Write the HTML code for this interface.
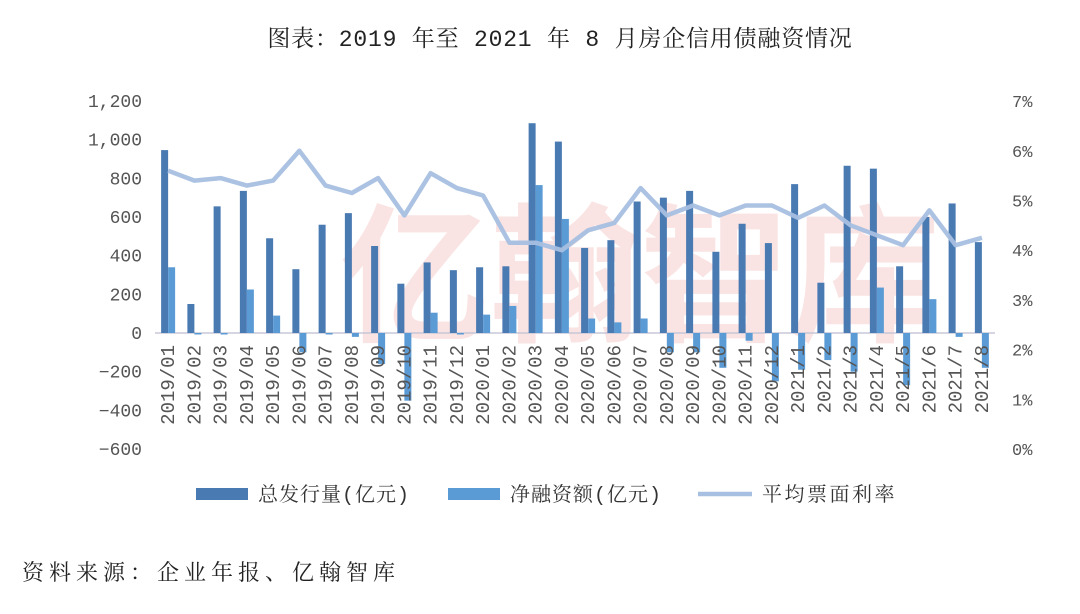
<!DOCTYPE html>
<html><head><meta charset="utf-8"><style>
html,body{margin:0;padding:0;background:#fff;width:1080px;height:614px;overflow:hidden}
text{font-family:"Liberation Mono","Noto Serif CJK SC",serif}
</style></head><body>
<svg id="s" width="1080" height="614" viewBox="0 0 1080 614" xmlns="http://www.w3.org/2000/svg">
<text x="560" y="46" text-anchor="middle" font-size="23" fill="#222" letter-spacing="0.8">图表：2019 年至 2021 年 8 月房企信用债融资情况</text>
<g opacity="0.13" fill="#e03030">
<text x="340" y="330" font-size="150" style="font-family:'Noto Sans CJK SC',sans-serif;font-weight:bold">亿翰智库</text>
</g>
<g id="yl" font-size="18" fill="#555" text-anchor="end"></g>
<g id="yr" font-size="17" fill="#555" text-anchor="start"></g>
<line x1="155" x2="995" y1="333" y2="333" stroke="#c8c8d8" stroke-width="1.5"/>
<g id="bars"></g>
<polyline id="ln" fill="none" stroke="#a7bfe0" stroke-width="4.5" stroke-linejoin="round" opacity="0.95"/>
<g id="xl" font-size="19" fill="#555"></g>
<rect x="196" y="488" width="52" height="12" fill="#4a7ab2"/>
<text x="258" y="501" font-size="20" fill="#333" letter-spacing="1">总发行量(亿元)</text>
<rect x="448" y="488" width="52" height="12" fill="#5b9bd5"/>
<text x="510" y="501" font-size="20" fill="#333" letter-spacing="1">净融资额(亿元)</text>
<line x1="698" x2="752" y1="494" y2="494" stroke="#a7bfe0" stroke-width="4.5"/>
<text x="762" y="501" font-size="20" fill="#333" letter-spacing="2.5">平均票面利率</text>
<text x="22" y="580" font-size="22" fill="#222" letter-spacing="5">资料来源：企业年报、亿翰智库</text>
</svg>
<script>
var labels=["2019/01","2019/02","2019/03","2019/04","2019/05","2019/06","2019/07","2019/08","2019/09","2019/10","2019/11","2019/12","2020/01","2020/02","2020/03","2020/04","2020/05","2020/06","2020/07","2020/08","2020/09","2020/10","2020/11","2020/12","2021/1","2021/2","2021/3","2021/4","2021/5","2021/6","2021/7","2021/8"];
var d=[946,150,655,735,490,330,560,620,450,255,365,325,340,345,1085,990,440,480,680,700,735,420,565,465,770,260,865,850,345,600,670,470];
var l=[340,-5,-5,225,90,-100,-5,-20,-160,-350,105,-5,95,140,765,590,75,55,75,-100,-100,-180,-40,-250,-190,-140,-200,235,-270,175,-20,-180];
var r=[5.6,5.4,5.45,5.3,5.4,6.0,5.3,5.15,5.45,4.7,5.55,5.25,5.1,4.15,4.15,4.0,4.4,4.55,5.25,4.7,4.9,4.7,4.9,4.9,4.65,4.9,4.5,4.3,4.1,4.8,4.1,4.25];
var NS="http://www.w3.org/2000/svg";
function el(t,a,p,tx){var e=document.createElementNS(NS,t);for(var k in a)e.setAttribute(k,a[k]);if(tx!=null)e.textContent=tx;document.getElementById(p).appendChild(e);}
function yv(v){return 333-v*38.67/200;}
function yr(v){return 449-v*49.7;}
var yls=["1,200","1,000","800","600","400","200","0","\u2212200","\u2212400","\u2212600"];
for(var i=0;i<10;i++){el("text",{x:142,y:101+i*38.67+6},"yl",yls[i]);}
for(var i=0;i<8;i++){el("text",{x:1012,y:yr(7-i)+6},"yr",(7-i)+"%");}
var pts=[];
for(var i=0;i<32;i++){var c=155+26.25*(i+0.5);
 var y=yv(d[i]);el("rect",{x:c-7,y:y,width:7,height:333-y,fill:"#4a7ab2"},"bars");
 var y2=yv(l[i]);el("rect",{x:c,y:Math.min(y2,333),width:7,height:Math.max(Math.abs(333-y2),1.5),fill:"#5b9bd5"},"bars");
 pts.push(c.toFixed(1)+","+yr(r[i]).toFixed(1));
 el("text",{transform:"translate("+(c+6)+",345) rotate(-90)","text-anchor":"end"},"xl",labels[i]);
}
document.getElementById("ln").setAttribute("points",pts.join(" "));
</script>
</body></html>
